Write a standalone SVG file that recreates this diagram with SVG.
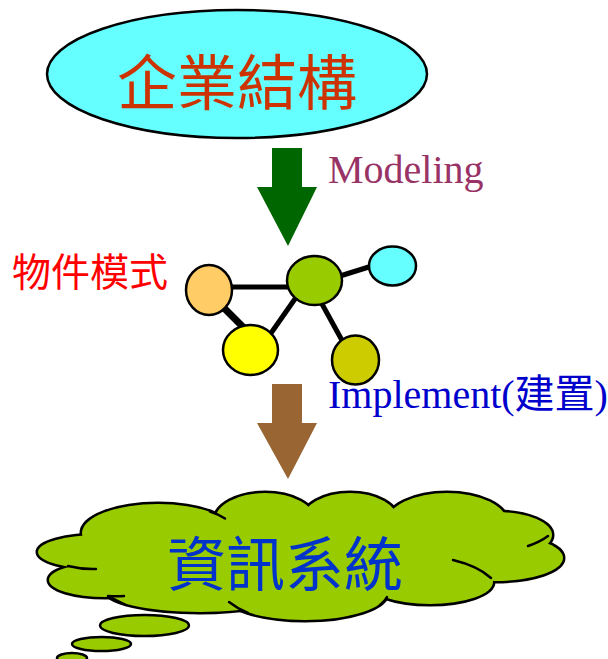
<svg xmlns="http://www.w3.org/2000/svg" width="608" height="659" viewBox="0 0 608 659">
  <style>
    .cjk { font-family: "Noto Sans CJK TC", "Noto Sans CJK SC", sans-serif; }
    .latin { font-family: "Liberation Serif", "Noto Sans CJK TC", serif; }
    .node { stroke: #000; stroke-width: 2.5; }
    .link { stroke: #000; stroke-width: 5; stroke-linecap: butt; }
    .lobe { fill: #99CC00; }
    .lobe-edge { fill: #99CC00; stroke: #000; stroke-width: 5; }
    .inner { fill: none; stroke: #000; stroke-width: 2.5; stroke-linecap: round; }
  </style>

  <rect width="608" height="659" fill="#fff"/>

  <!-- enterprise structure -->
  <g id="enterprise">
    <ellipse cx="237" cy="74" rx="190" ry="64" fill="#66FFFF" stroke="#000" stroke-width="2.5"/>
    <text x="237" y="105" text-anchor="middle" font-size="60" fill="#CC3300" class="cjk">企業結構</text>
  </g>

  <!-- step arrows -->
  <g id="arrow-modeling">
    <polygon points="272,148 302,148 302,187 317,187 288,246 257,187 272,187" fill="#006600"/>
    <text x="328" y="183" font-size="40" fill="#993366" class="latin">Modeling</text>
  </g>
  <g id="arrow-implement">
    <polygon points="272,384 302,384 302,423 317,423 288,479 257,423 272,423" fill="#996633"/>
    <text x="328" y="408" font-size="40" fill="#0000CC" class="latin">Implement(<tspan class="cjk">建置</tspan>)</text>
  </g>

  <!-- object model -->
  <g id="object-model-label">
    <text x="12" y="286" font-size="39" fill="#FF0000" class="cjk">物件模式</text>
  </g>

  <g id="connectors">
    <line class="link" x1="230" y1="287" x2="290" y2="287"/>
    <line class="link" x1="340" y1="276" x2="372" y2="266"/>
    <line class="link" x1="223" y1="307" x2="243" y2="327" style="stroke-width:7"/>
    <line class="link" x1="297" y1="296" x2="269" y2="336"/>
    <line class="link" x1="322" y1="304" x2="344" y2="344"/>
  </g>

  <g id="node-orange">
    <ellipse class="node" cx="209" cy="290" rx="23" ry="25" fill="#FFCC66"/>
  </g>
  <g id="node-green">
    <ellipse class="node" cx="314.5" cy="280.5" rx="27.5" ry="24.5" fill="#99CC00"/>
  </g>
  <g id="node-cyan">
    <ellipse class="node" cx="392.5" cy="266" rx="23.5" ry="19.5" fill="#66FFFF"/>
  </g>
  <g id="node-yellow">
    <ellipse class="node" cx="250.5" cy="350" rx="27.5" ry="25" fill="#FFFF00"/>
  </g>
  <g id="node-olive">
    <ellipse class="node" cx="355.5" cy="360" rx="23.5" ry="24.5" fill="#CCCC00"/>
  </g>

  <!-- information system cloud -->
  <defs>
    <g id="lobes">
      <ellipse cx="100" cy="552" rx="62" ry="17"/>
      <ellipse cx="105" cy="580" rx="56" ry="17"/>
      <ellipse cx="158" cy="533" rx="76" ry="29"/>
      <ellipse cx="265" cy="520" rx="50" ry="27"/>
      <ellipse cx="350" cy="520" rx="48" ry="27"/>
      <ellipse cx="447" cy="522" rx="60" ry="29"/>
      <ellipse cx="497" cy="535" rx="55" ry="23"/>
      <ellipse cx="495" cy="558" rx="68" ry="23"/>
      <ellipse cx="430" cy="582" rx="63" ry="22"/>
      <ellipse cx="305" cy="593" rx="82" ry="27"/>
      <ellipse cx="200" cy="590" rx="95" ry="22"/>
    </g>
  </defs>
  <g id="information-system">
    <use href="#lobes" class="lobe-edge"/>
    <use href="#lobes" class="lobe"/>
    <ellipse cx="300" cy="556" rx="200" ry="44" class="lobe"/>
    <path class="inner" d="M68 566 Q82 569.5 96 569"/>
    <path class="inner" d="M108 596 Q116 596.5 124 596"/>
    <path class="inner" d="M210 511.5 Q218 514 225 518.5"/>
    <path class="inner" d="M548 536 Q540 542 528 546"/>
    <path class="inner" d="M453 560 Q478 566 491 578"/>
    <path class="inner" d="M229 602 Q238 609 248 613"/>
    <path class="inner" d="M110 597 Q118 601 126 605"/>
    <path class="inner" d="M380 605 Q385 601 387 597"/>
    <text x="285" y="586" text-anchor="middle" font-size="59" fill="#0033CC" class="cjk">資訊系統</text>
  </g>

  <!-- thought bubbles -->
  <g id="bubble-1">
    <ellipse cx="144.5" cy="625.5" rx="44.5" ry="10.5" fill="#99CC00" stroke="#000" stroke-width="2.5"/>
  </g>
  <g id="bubble-2">
    <ellipse cx="101.5" cy="644" rx="29.5" ry="7" fill="#99CC00" stroke="#000" stroke-width="2.5"/>
  </g>
  <g id="bubble-3">
    <ellipse cx="72" cy="658" rx="15" ry="5" fill="#99CC00" stroke="#000" stroke-width="2.5"/>
  </g>
</svg>
